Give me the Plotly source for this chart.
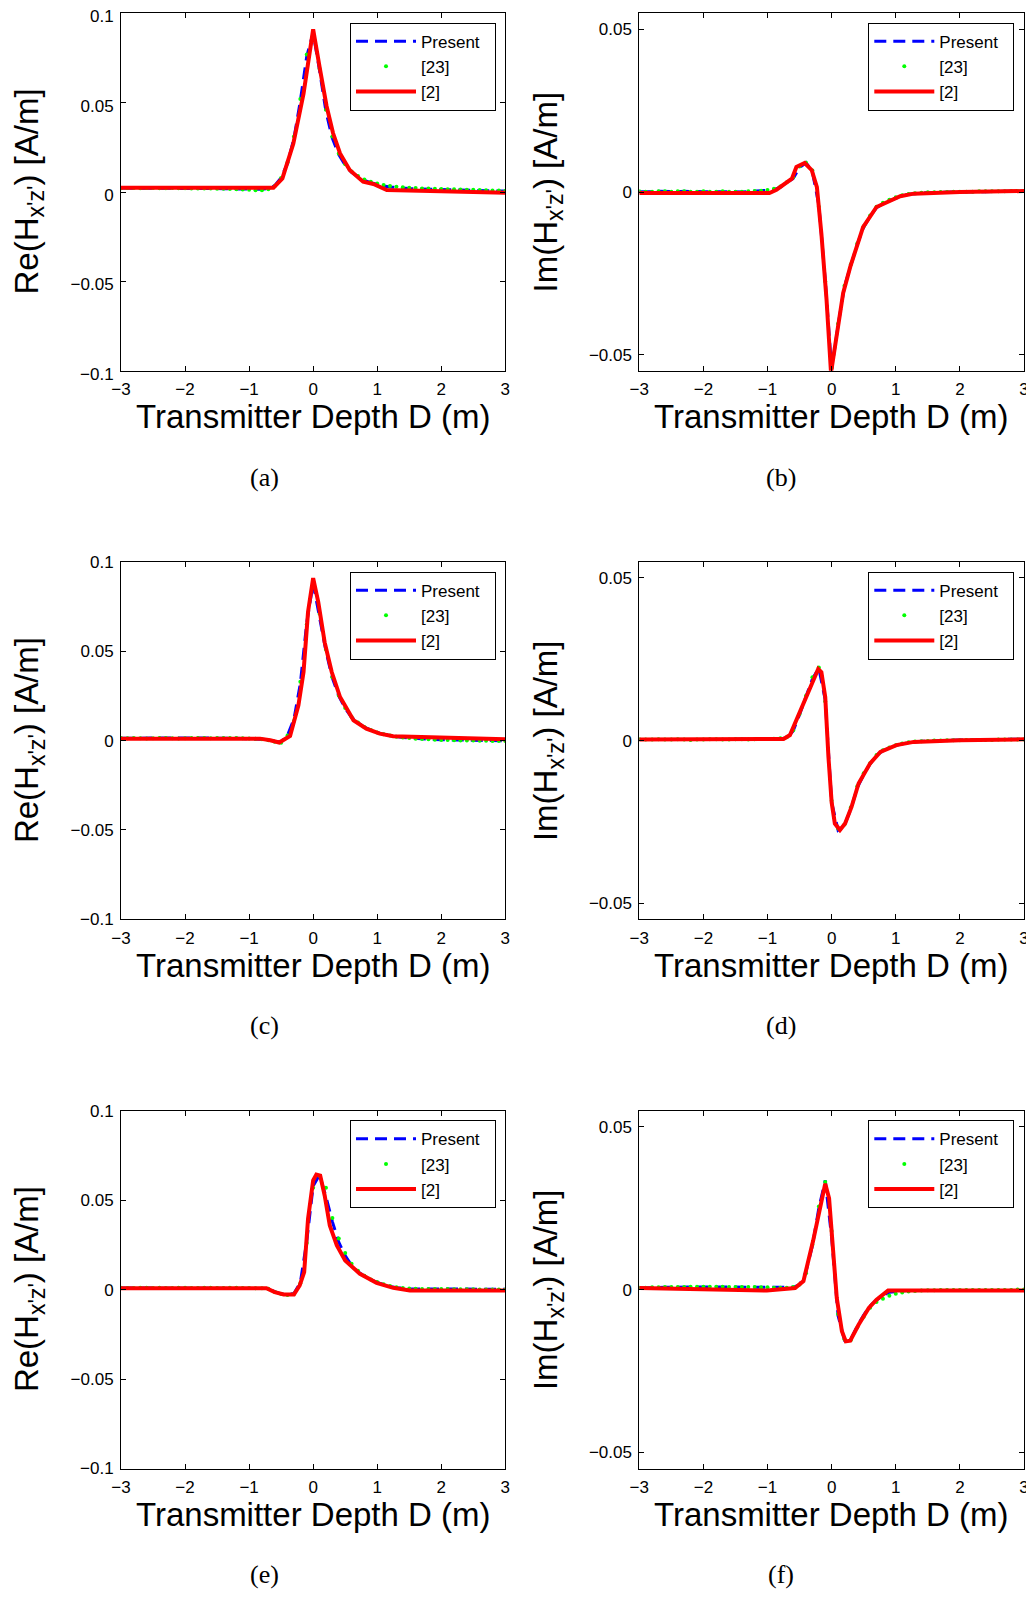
import plotly.graph_objects as go

# ---------------- data ----------------
X = [-3.0, -2.9, -2.8, -2.7, -2.6, -2.5, -2.4, -2.3, -2.2, -2.1,
     -2.0, -1.9, -1.8, -1.7, -1.6, -1.5, -1.4, -1.3, -1.2, -1.1,
     -1.0, -0.9, -0.8, -0.7, -0.6, -0.5, -0.4, -0.3, -0.2, -0.1,
     0.0, 0.1, 0.2, 0.3, 0.4, 0.5, 0.6, 0.7, 0.8, 0.9,
     1.0, 1.1, 1.2, 1.3, 1.4, 1.5, 1.6, 1.7, 1.8, 1.9,
     2.0, 2.1, 2.2, 2.3, 2.4, 2.5, 2.6, 2.7, 2.8, 2.9, 3.0]

# (a) Re
a_present = [0.0022, 0.0022, 0.0023, 0.0022, 0.0022, 0.0021, 0.0022, 0.0022, 0.0021, 0.0021,
             0.0020, 0.0021, 0.0020, 0.0020, 0.0019, 0.0019, 0.0018, 0.0018, 0.0017, 0.0016,
             0.0015, 0.0014, 0.0015, 0.0020, 0.0035, 0.0080, 0.0160, 0.0300, 0.0510, 0.0760,
             0.0890, 0.0680, 0.0450, 0.0300, 0.0210, 0.0150, 0.0110, 0.0085, 0.0065, 0.0052,
             0.0042, 0.0034, 0.0028, 0.0024, 0.0021, 0.0019, 0.0017, 0.0016, 0.0015, 0.0014,
             0.0013, 0.0012, 0.0011, 0.0010, 0.0009, 0.0008, 0.0008, 0.0007, 0.0006, 0.0005, 0.0005]
a_ref23 = [0.0021, 0.0022, 0.0022, 0.0021, 0.0022, 0.0022, 0.0021, 0.0021, 0.0022, 0.0021,
           0.0021, 0.0020, 0.0020, 0.0019, 0.0019, 0.0018, 0.0018, 0.0017, 0.0016, 0.0014,
           0.0012, 0.0010, 0.0010, 0.0016, 0.0033, 0.0078, 0.0165, 0.0310, 0.0520, 0.0770,
           0.0880, 0.0690, 0.0460, 0.0310, 0.0215, 0.0155, 0.0115, 0.0090, 0.0070, 0.0057,
           0.0047, 0.0039, 0.0033, 0.0029, 0.0026, 0.0024, 0.0022, 0.0020, 0.0019, 0.0018,
           0.0017, 0.0016, 0.0015, 0.0014, 0.0013, 0.0012, 0.0011, 0.0010, 0.0009, 0.0008, 0.0007]
a_ref2_x = [-3.0, -0.62, -0.48, -0.31, -0.15, 0.0, 0.1, 0.21, 0.31, 0.42, 0.57, 0.78, 0.94, 1.15, 2.0, 3.0]
a_ref2_y = [0.0024, 0.0024, 0.0076, 0.027, 0.055, 0.091, 0.070, 0.048, 0.033, 0.0216, 0.0123,
            0.0058, 0.0045, 0.0011, 0.0004, -0.0004]

# (b) Im
b_present = [0.0001, 0.0000, 0.0001, 0.0002, 0.0001, 0.0000, 0.0001, 0.0002, 0.0001, 0.0000,
             0.0001, 0.0001, 0.0000, 0.0001, 0.0001, 0.0000, 0.0000, 0.0001, 0.0002, 0.0003,
             0.0004, 0.0007, 0.0015, 0.0028, 0.0042, 0.0075, 0.0090, 0.0062, -0.0040, -0.0270,
             -0.0545, -0.0410, -0.0290, -0.0225, -0.0160, -0.0108, -0.0075, -0.0048, -0.0036, -0.0027,
             -0.0019, -0.0012, -0.0007, -0.0004, -0.0003, -0.0002, -0.0001, -0.0001, 0.0000, 0.0000,
             0.0000, 0.0001, 0.0001, 0.0001, 0.0001, 0.0002, 0.0002, 0.0002, 0.0002, 0.0003, 0.0003]
b_ref23 = [0.0002, 0.0001, 0.0001, 0.0002, 0.0002, 0.0001, 0.0002, 0.0002, 0.0001, 0.0001,
           0.0002, 0.0001, 0.0001, 0.0002, 0.0001, 0.0001, 0.0001, 0.0002, 0.0003, 0.0004,
           0.0006, 0.0010, 0.0017, 0.0030, 0.0045, 0.0078, 0.0090, 0.0066, -0.0045, -0.0275,
           -0.0540, -0.0405, -0.0288, -0.0222, -0.0158, -0.0105, -0.0072, -0.0045, -0.0033, -0.0024,
           -0.0016, -0.0010, -0.0006, -0.0004, -0.0002, -0.0001, -0.0001, 0.0000, 0.0000, 0.0001,
           0.0001, 0.0001, 0.0001, 0.0002, 0.0002, 0.0002, 0.0002, 0.0002, 0.0003, 0.0003, 0.0003]
b_ref2_x = [-3.0, -0.97, -0.86, -0.75, -0.62, -0.55, -0.42, -0.31, -0.23, -0.16, -0.08, -0.01,
            0.08, 0.18, 0.29, 0.49, 0.70, 0.91, 1.07, 1.28, 2.0, 3.0]
b_ref2_y = [-0.0003, -0.0003, 0.0007, 0.0023, 0.0041, 0.0077, 0.0089, 0.0067, 0.0015, -0.0128,
            -0.033, -0.0555, -0.0435, -0.031, -0.023, -0.0108, -0.0046, -0.0026, -0.0013, -0.0005,
            0.0000, 0.0003]

# (c) Re
c_present = [0.0013, 0.0014, 0.0013, 0.0012, 0.0013, 0.0014, 0.0014, 0.0013, 0.0012, 0.0013,
             0.0014, 0.0015, 0.0014, 0.0013, 0.0014, 0.0015, 0.0014, 0.0013, 0.0013, 0.0012,
             0.0011, 0.0010, 0.0009, 0.0005, -0.0003, -0.0008, 0.0030, 0.0120, 0.0320, 0.0660,
             0.0880, 0.0700, 0.0500, 0.0350, 0.0250, 0.0180, 0.0130, 0.0100, 0.0075, 0.0060,
             0.0045, 0.0035, 0.0028, 0.0022, 0.0018, 0.0015, 0.0012, 0.0010, 0.0008, 0.0006,
             0.0005, 0.0004, 0.0003, 0.0002, 0.0002, 0.0001, 0.0001, 0.0000, 0.0000, -0.0001, -0.0001]
c_ref23 = [0.0014, 0.0013, 0.0014, 0.0013, 0.0012, 0.0013, 0.0014, 0.0015, 0.0013, 0.0012,
           0.0013, 0.0014, 0.0015, 0.0014, 0.0013, 0.0014, 0.0015, 0.0015, 0.0014, 0.0013,
           0.0012, 0.0011, 0.0008, 0.0002, -0.0007, -0.0012, 0.0028, 0.0110, 0.0330, 0.0650,
           0.0860, 0.0710, 0.0510, 0.0355, 0.0252, 0.0182, 0.0132, 0.0101, 0.0076, 0.0060,
           0.0046, 0.0036, 0.0028, 0.0022, 0.0018, 0.0014, 0.0011, 0.0009, 0.0007, 0.0005,
           0.0004, 0.0003, 0.0002, 0.0001, 0.0000, 0.0000, -0.0001, -0.0001, -0.0002, -0.0002, -0.0002]
c_ref2_x = [-3.0, -0.83, -0.67, -0.53, -0.36, -0.23, -0.15, -0.08, 0.0, 0.08, 0.18, 0.29, 0.42,
            0.63, 0.83, 1.04, 1.25, 2.0, 3.0]
c_ref2_y = [0.0011, 0.0011, 0.0002, -0.0011, 0.0026, 0.0198, 0.0384, 0.072, 0.091, 0.0776, 0.055,
            0.0384, 0.0244, 0.0114, 0.0067, 0.0039, 0.0024, 0.0016, 0.0007]

# (d) Im
d_present = [0.0003, 0.0003, 0.0002, 0.0003, 0.0004, 0.0003, 0.0003, 0.0002, 0.0003, 0.0004,
             0.0004, 0.0003, 0.0003, 0.0004, 0.0004, 0.0003, 0.0003, 0.0004, 0.0004, 0.0004,
             0.0005, 0.0005, 0.0006, 0.0008, 0.0030, 0.0080, 0.0135, 0.0190, 0.0222, 0.0125,
             -0.0190, -0.0275, -0.0260, -0.0210, -0.0145, -0.0105, -0.0072, -0.0045, -0.0031, -0.0022,
             -0.0015, -0.0010, -0.0006, -0.0004, -0.0002, -0.0001, 0.0000, 0.0001, 0.0001, 0.0002,
             0.0002, 0.0002, 0.0003, 0.0003, 0.0003, 0.0003, 0.0004, 0.0004, 0.0004, 0.0004, 0.0004]
d_ref23 = [0.0004, 0.0003, 0.0003, 0.0004, 0.0003, 0.0003, 0.0004, 0.0003, 0.0002, 0.0003,
           0.0003, 0.0004, 0.0004, 0.0003, 0.0003, 0.0004, 0.0004, 0.0003, 0.0004, 0.0005,
           0.0005, 0.0006, 0.0007, 0.0010, 0.0032, 0.0082, 0.0138, 0.0195, 0.0225, 0.0120,
           -0.0185, -0.0270, -0.0258, -0.0205, -0.0140, -0.0100, -0.0070, -0.0044, -0.0030, -0.0021,
           -0.0014, -0.0009, -0.0005, -0.0003, -0.0002, -0.0001, 0.0000, 0.0000, 0.0001, 0.0001,
           0.0001, 0.0002, 0.0002, 0.0002, 0.0002, 0.0002, 0.0003, 0.0003, 0.0003, 0.0003, 0.0003]
d_ref2_x = [-3.0, -0.75, -0.65, -0.44, -0.21, -0.16, -0.10, -0.05, 0.0, 0.05, 0.13, 0.21, 0.31,
            0.42, 0.6, 0.76, 1.01, 1.28, 2.0, 3.0]
d_ref2_y = [0.0003, 0.0005, 0.0017, 0.0114, 0.022, 0.021, 0.0134, -0.005, -0.019, -0.0255,
            -0.0275, -0.0255, -0.0204, -0.0132, -0.007, -0.0035, -0.0014, -0.0004, 0.0001, 0.0004]

# (e) Re
e_present = [0.0009, 0.0009, 0.0010, 0.0009, 0.0009, 0.0010, 0.0009, 0.0009, 0.0010, 0.0010,
             0.0009, 0.0009, 0.0010, 0.0010, 0.0009, 0.0009, 0.0010, 0.0010, 0.0009, 0.0009,
             0.0009, 0.0009, 0.0009, 0.0006, -0.0012, -0.0024, -0.0028, -0.0022, 0.0040, 0.0270,
             0.0580, 0.0640, 0.0520, 0.0380, 0.0265, 0.0190, 0.0135, 0.0100, 0.0075, 0.0055,
             0.0040, 0.0028, 0.0018, 0.0011, 0.0007, 0.0005, 0.0004, 0.0004, 0.0004, 0.0004,
             0.0003, 0.0003, 0.0003, 0.0003, 0.0003, 0.0002, 0.0002, 0.0002, 0.0002, 0.0002, 0.0002]
e_ref23 = [0.0010, 0.0009, 0.0009, 0.0010, 0.0010, 0.0009, 0.0010, 0.0009, 0.0009, 0.0010,
           0.0010, 0.0009, 0.0009, 0.0010, 0.0010, 0.0009, 0.0009, 0.0010, 0.0010, 0.0009,
           0.0009, 0.0008, 0.0008, 0.0005, -0.0013, -0.0025, -0.0030, -0.0024, 0.0035, 0.0260,
           0.0570, 0.0635, 0.0570, 0.0400, 0.0285, 0.0205, 0.0145, 0.0105, 0.0078, 0.0057,
           0.0042, 0.0030, 0.0020, 0.0013, 0.0009, 0.0006, 0.0005, 0.0004, 0.0004, 0.0003,
           0.0003, 0.0003, 0.0002, 0.0002, 0.0002, 0.0002, 0.0001, 0.0001, 0.0001, 0.0001, 0.0001]
e_ref2_x = [-3.0, -0.73, -0.6, -0.46, -0.3, -0.21, -0.14, -0.08, 0.0, 0.05, 0.11, 0.18, 0.26,
            0.37, 0.5, 0.73, 0.99, 1.25, 1.51, 3.0]
e_ref2_y = [0.0008, 0.0008, -0.0014, -0.0027, -0.0027, 0.0023, 0.0098, 0.0395, 0.061, 0.0643,
            0.0637, 0.0526, 0.0358, 0.0247, 0.0163, 0.0088, 0.0038, 0.001, -0.0005, -0.0005]

# (f) Im
f_present = [0.0005, 0.0006, 0.0006, 0.0007, 0.0007, 0.0007, 0.0008, 0.0008, 0.0008, 0.0008,
             0.0008, 0.0008, 0.0008, 0.0008, 0.0008, 0.0008, 0.0008, 0.0008, 0.0008, 0.0008,
             0.0007, 0.0007, 0.0006, 0.0006, 0.0007, 0.0015, 0.0055, 0.0135, 0.0250, 0.0335,
             0.0160, -0.0080, -0.0155, -0.0152, -0.0112, -0.0078, -0.0050, -0.0032, -0.0018, -0.0008,
             -0.0005, -0.0004, -0.0003, -0.0003, -0.0003, -0.0003, -0.0003, -0.0003, -0.0003, -0.0003,
             -0.0003, -0.0003, -0.0003, -0.0003, -0.0003, -0.0003, -0.0003, -0.0003, -0.0003, -0.0003, -0.0003]
f_ref23 = [0.0006, 0.0006, 0.0007, 0.0007, 0.0008, 0.0008, 0.0008, 0.0008, 0.0009, 0.0009,
           0.0009, 0.0009, 0.0009, 0.0009, 0.0008, 0.0008, 0.0008, 0.0008, 0.0008, 0.0007,
           0.0007, 0.0006, 0.0006, 0.0006, 0.0008, 0.0016, 0.0050, 0.0138, 0.0255, 0.0330,
           0.0180, -0.0075, -0.0152, -0.0155, -0.0116, -0.0083, -0.0056, -0.0038, -0.0028, -0.0019,
           -0.0013, -0.0009, -0.0006, -0.0004, -0.0003, -0.0002, -0.0002, -0.0001, -0.0001, -0.0001,
           -0.0001, -0.0001, -0.0001, -0.0001, -0.0001, -0.0001, -0.0001, -0.0001, -0.0001, 0.0000, 0.0000]
f_ref2_x = [-3.0, -1.64, -1.01, -0.57, -0.44, -0.29, -0.10, -0.04, 0.02, 0.08, 0.16, 0.22, 0.29,
            0.42, 0.58, 0.70, 0.88, 3.0]
f_ref2_y = [0.0005, 0.0, -0.0003, 0.0005, 0.0026, 0.0149, 0.0325, 0.028, 0.0128, -0.0026,
            -0.0128, -0.0159, -0.0157, -0.0108, -0.0056, -0.0031, -0.0003, -0.0003]

series_names = ["Present\u00a0\u00a0", "[23]", "[2]"]
panel_labels = ["(a)", "(b)", "(c)", "(d)", "(e)", "(f)"]
x_ticks = [-3, -2, -1, 0, 1, 2, 3]
x_ticktext = ["\u22123", "\u22122", "\u22121", "0", "1", "2", "3"]
re_ticks = [-0.1, -0.05, 0, 0.05, 0.1]
re_ticktext = ["\u22120.1", "\u22120.05", "0", "0.05", "0.1"]
im_ticks = [-0.05, 0, 0.05]
im_ticktext = ["\u22120.05", "0", "0.05"]
x_title = "Transmitter Depth D (m)"
re_title = "Re(H<sub>x'z'</sub>) [A/m]"
im_title = "Im(H<sub>x'z'</sub>) [A/m]"

panels = [
    (a_present, a_ref23, a_ref2_x, a_ref2_y),
    (b_present, b_ref23, b_ref2_x, b_ref2_y),
    (c_present, c_ref23, c_ref2_x, c_ref2_y),
    (d_present, d_ref23, d_ref2_x, d_ref2_y),
    (e_present, e_ref23, e_ref2_x, e_ref2_y),
    (f_present, f_ref23, f_ref2_x, f_ref2_y),
]

# ---------------- layout geometry ----------------
# page pixels of the 1034x1597 window; the page body has an 8px margin,
# so the figure itself is 8px smaller on each side and offset by 8px.
OFF = 8
W, H = 1034 - OFF, 1597 - OFF
SANS = "Liberation Sans, Arial, Helvetica, sans-serif"
SERIF = "Liberation Serif, Times New Roman, serif"


def px(xp):
    return (xp - OFF) / W


def py(yp):
    return 1 - (yp - OFF) / H


col_px = [(121.0, 505.3), (639.3, 1024.0)]
row_px = [(13.3, 370.7), (562.0, 919.2), (1110.7, 1468.5)]
legend_top_px = [22.7, 571.7, 1120.3]
legend_right_px = [496.0, 1014.3]
xtitle_y_px = [416.0, 965.0, 1514.0]
caption_y_px = [477.0, 1025.5, 1574.5]
caption_x_px = [264.0, 781.0]
ytitle_x_px = [28.5, 547.5]

fig = go.Figure()
layout = dict(
    template="none",
    width=W, height=H,
    margin=dict(l=0, r=0, t=0, b=0, pad=0, autoexpand=False),
    paper_bgcolor="white", plot_bgcolor="white",
    font=dict(family=SANS, color="black", size=17),
    annotations=[],
)

for i, (pres, r23, r2x, r2y) in enumerate(panels):
    row, col = divmod(i, 2)
    n = i + 1
    xa = "x" if n == 1 else f"x{n}"
    ya = "y" if n == 1 else f"y{n}"
    lg = "legend" if n == 1 else f"legend{n}"
    fig.add_trace(go.Scatter(x=X, y=pres, mode="lines", name=series_names[0],
                             line=dict(color="#0000ff", width=3, dash="12px,7px"),
                             xaxis=xa, yaxis=ya, legend=lg))
    fig.add_trace(go.Scatter(x=X, y=r23, mode="markers", name=series_names[1],
                             marker=dict(color="#00ff00", size=4, line=dict(width=0)),
                             xaxis=xa, yaxis=ya, legend=lg))
    fig.add_trace(go.Scatter(x=r2x, y=r2y, mode="lines", name=series_names[2],
                             line=dict(color="#ff0000", width=4),
                             xaxis=xa, yaxis=ya, legend=lg))

    x0, x1 = col_px[col]
    t0, t1 = row_px[row]
    is_re = (col == 0)
    xkey = "xaxis" if n == 1 else f"xaxis{n}"
    ykey = "yaxis" if n == 1 else f"yaxis{n}"
    common = dict(showline=True, linecolor="black", linewidth=1, mirror="ticks",
                  ticks="inside", ticklen=5, tickwidth=1, tickcolor="black",
                  showgrid=False, zeroline=False, automargin=False,
                  ticklabeloverflow="allow",
                  tickfont=dict(family=SANS, size=17, color="black"))
    layout[xkey] = dict(common, domain=[px(x0), px(x1)], range=[-3, 3],
                        tickvals=x_ticks, ticktext=x_ticktext,
                        anchor=ya, ticklabelstandoff=3)
    layout[ykey] = dict(common, domain=[py(t1), py(t0)],
                        range=[-0.1, 0.1] if is_re else [-0.0549, 0.0549],
                        tickvals=re_ticks if is_re else im_ticks,
                        ticktext=re_ticktext if is_re else im_ticktext,
                        anchor=xa, ticklabelstandoff=3,
                        ticklabelshift=3 if n == 1 else 0)
    layout[lg] = dict(x=px(legend_right_px[col]), y=py(legend_top_px[row]),
                      xanchor="right", yanchor="top", bgcolor="white",
                      bordercolor="black", borderwidth=1, itemwidth=60,
                      font=dict(family=SANS, size=17, color="black"),
                      tracegroupgap=0)

    cx = (x0 + x1) / 2
    layout["annotations"].append(dict(
        text=x_title, x=px(cx), y=py(xtitle_y_px[row]), xref="paper", yref="paper",
        xanchor="center", yanchor="middle", showarrow=False,
        font=dict(family=SANS, size=33, color="black")))
    layout["annotations"].append(dict(
        text=re_title if is_re else im_title, textangle=-90,
        x=px(ytitle_x_px[col]), y=py((t0 + t1) / 2), xref="paper", yref="paper",
        xanchor="center", yanchor="middle", showarrow=False,
        font=dict(family=SANS, size=33, color="black")))
    layout["annotations"].append(dict(
        text=panel_labels[i], x=px(caption_x_px[col]), y=py(caption_y_px[row]),
        xref="paper", yref="paper", xanchor="center", yanchor="middle", showarrow=False,
        font=dict(family=SERIF, size=26, color="black")))

fig.update_layout(**layout)
fig.write_html("out.html")
